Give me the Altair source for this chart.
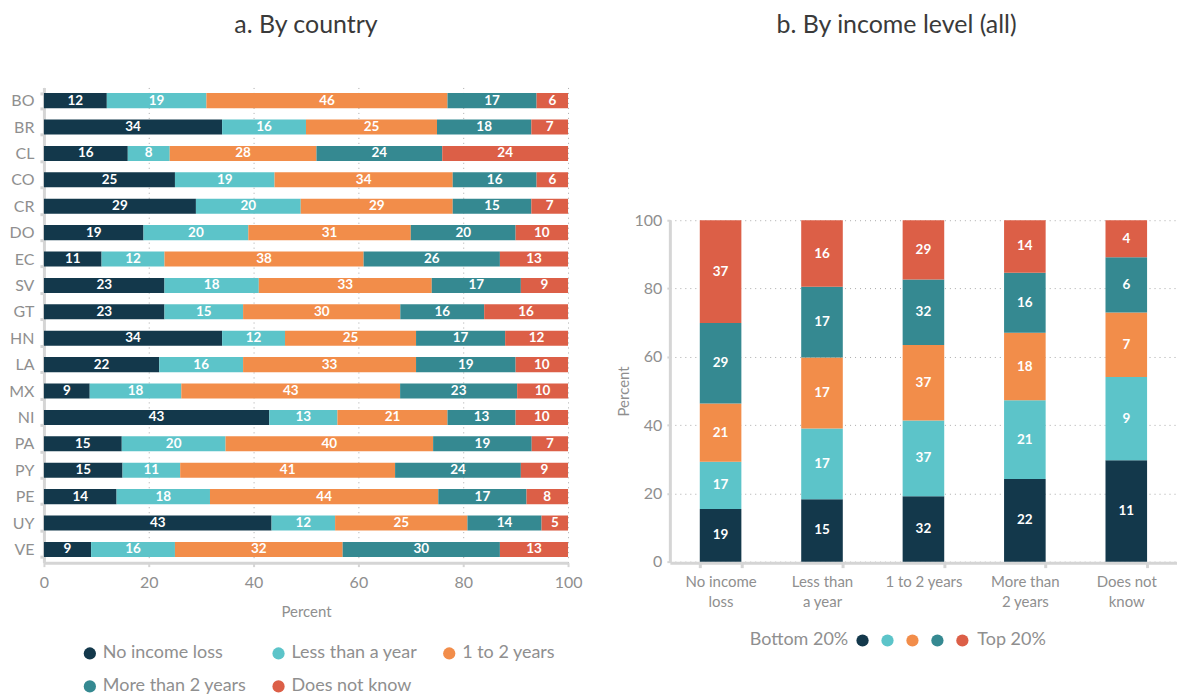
import altair as alt
import pandas as pd

FONT = "Lato"
GRAY = "#8f8f8f"
AXIS_LINE = "#d5d5d5"

# Panel a: share of respondents by expected duration of income loss, per country
countries = ["BO", "BR", "CL", "CO", "CR", "DO", "EC", "SV", "GT", "HN",
             "LA", "MX", "NI", "PA", "PY", "PE", "UY", "VE"]
durations = ["No income loss", "Less than a year", "1 to 2 years",
             "More than 2 years", "Does not know"]
no_loss = [12, 34, 16, 25, 29, 19, 11, 23, 23, 34, 22, 9, 43, 15, 15, 14, 43, 9]
less_year = [19, 16, 8, 19, 20, 20, 12, 18, 15, 12, 16, 18, 13, 20, 11, 18, 12, 16]
one_two = [46, 25, 28, 34, 29, 31, 38, 33, 30, 25, 33, 43, 21, 40, 41, 44, 25, 32]
more_two = [17, 18, 24, 16, 15, 20, 26, 17, 16, 17, 19, 23, 13, 19, 24, 17, 14, 30]
dont_know = [6, 7, 24, 6, 7, 10, 13, 9, 16, 12, 10, 10, 10, 7, 9, 8, 5, 13]

# Panel b: income quintile composition of each duration group
income_groups = ["No income loss", "Less than a year", "1 to 2 years",
                 "More than 2 years", "Does not know"]
quintiles = ["Bottom 20%", "Q2", "Q3", "Q4", "Top 20%"]
q1 = [19, 15, 32, 22, 11]
q2 = [17, 17, 37, 21, 9]
q3 = [21, 17, 37, 18, 7]
q4 = [29, 17, 32, 16, 6]
q5 = [37, 16, 29, 14, 4]

palette = ["#13384b", "#5cc4c9", "#f28d4a", "#358991", "#dc5f47"]

rows = []
for series_idx, (name, vals) in enumerate(zip(durations, [no_loss, less_year, one_two, more_two, dont_know])):
    for c, v in zip(countries, vals):
        rows.append({"country": c, "duration": name, "order": series_idx, "value": v})
df_country = pd.DataFrame(rows)

rows = []
for series_idx, (name, vals) in enumerate(zip(quintiles, [q1, q2, q3, q4, q5])):
    for g, v in zip(income_groups, vals):
        rows.append({"group": g, "quintile": name, "order": series_idx, "value": v})
df_income = pd.DataFrame(rows)

pct_values = [0, 0.2, 0.4, 0.6, 0.8, 1.0]
pct_label = "round(datum.value * 100)"
PLOT_H = 476

# ---- panel a ----
left_base = alt.Chart(df_country).transform_stack(
    stack="value", groupby=["country"], as_=["x0", "x1"],
    sort=[alt.SortField("order", "ascending")], offset="normalize",
).transform_calculate(mid="(datum.x0 + datum.x1) / 2")

y_left = alt.Y(
    "country:N", sort=countries, title=None,
    scale=alt.Scale(paddingInner=0.43, paddingOuter=0.215),
    axis=alt.Axis(labelFontSize=16, labelColor=GRAY, labelPadding=6,
                  domainWidth=3, domainColor=AXIS_LINE, tickBand="extent",
                  tickSize=4, tickWidth=3, tickColor=AXIS_LINE),
)
x_scale_left = alt.Scale(domain=[0, 1], nice=False)

left_bars = left_base.mark_bar().encode(
    y=y_left,
    x=alt.X("x0:Q", scale=x_scale_left, title="Percent",
            axis=alt.Axis(values=pct_values, labelExpr=pct_label, labelFontSize=16,
                          labelColor=GRAY, labelPadding=8, labelFlush=False,
                          titleFontSize=15, titleColor=GRAY, titleFontWeight="normal",
                          titlePadding=14, domainWidth=3, domainColor=AXIS_LINE,
                          tickSize=4, tickWidth=2, tickColor=AXIS_LINE, grid=True,
                          gridDash=[1, 4], gridColor="#aaaaaa")),
    x2="x1:Q",
    color=alt.Color(
        "duration:N", scale=alt.Scale(domain=durations, range=palette), title=None,
        legend=alt.Legend(orient="none", legendX=37, legendY=558, direction="horizontal",
                          columns=3, columnPadding=23, rowPadding=15,
                          symbolType="circle", symbolSize=150, symbolStrokeWidth=0,
                          labelFontSize=18, labelColor=GRAY, labelOffset=4),
    ),
)
left_text = left_base.mark_text(color="white", fontWeight="bold", fontSize=13.5).encode(
    y=alt.Y("country:N", sort=countries),
    x=alt.X("mid:Q", scale=x_scale_left),
    text=alt.Text("value:Q"),
)
left = alt.layer(left_bars, left_text).properties(
    width=525, height=PLOT_H,
    title=alt.TitleParams("a. By country", fontSize=25, fontWeight="normal",
                          color="#3a3a3a", anchor="middle", frame="group", offset=42),
)

# ---- panel b ----
right_base = alt.Chart(df_income).transform_stack(
    stack="value", groupby=["group"], as_=["y0", "y1"],
    sort=[alt.SortField("order", "ascending")], offset="normalize",
).transform_calculate(mid="(datum.y0 + datum.y1) / 2")

wrapped = "{'No income loss': ['No income', 'loss'], 'Less than a year': ['Less than', 'a year'], " \
          "'1 to 2 years': '1 to 2 years', 'More than 2 years': ['More than', '2 years'], " \
          "'Does not know': ['Does not', 'know']}[datum.label]"

x_right = alt.X(
    "group:N", sort=income_groups, title=None,
    scale=alt.Scale(paddingInner=0.59, paddingOuter=0.295),
    axis=alt.Axis(labelAngle=0, labelExpr=wrapped, labelFontSize=15, labelColor=GRAY,
                  labelPadding=7, labelLineHeight=20, domainWidth=3,
                  domainColor=AXIS_LINE, tickBand="extent", tickSize=5, tickWidth=3,
                  tickColor=AXIS_LINE),
)
# the value axis only uses the lower part of the panel
y_scale_right = alt.Scale(domain=[0, 1], nice=False, range=[PLOT_H - 1, PLOT_H - 343])

right_bars = right_base.mark_bar().encode(
    x=x_right,
    y=alt.Y("y0:Q", scale=y_scale_right, title="Percent",
            axis=alt.Axis(values=pct_values, labelExpr=pct_label, labelFontSize=16,
                          labelColor=GRAY, labelPadding=5, labelFlush=False,
                          titleFontSize=15, titleColor=GRAY, titleFontWeight="normal",
                          titlePadding=3, domainWidth=3, domainColor=AXIS_LINE,
                          tickSize=3, tickWidth=2, tickColor=AXIS_LINE, grid=True,
                          gridDash=[1, 4], gridColor="#aaaaaa")),
    y2="y1:Q",
    color=alt.Color(
        "quintile:N", scale=alt.Scale(domain=quintiles, range=palette), title="Bottom 20%",
        legend=alt.Legend(orient="none", legendX=80, legendY=545, direction="horizontal",
                          titleOrient="left", titleFontSize=18, titleColor=GRAY,
                          titleFontWeight="normal", titlePadding=5, titleBaseline="middle",
                          symbolType="circle", symbolSize=150, symbolStrokeWidth=0,
                          labelExpr="datum.label == 'Top 20%' ? datum.label : ''",
                          labelFontSize=18, labelColor=GRAY, labelOffset=6,
                          columnPadding=1),
    ),
)
right_text = right_base.mark_text(color="white", fontWeight="bold", fontSize=13.5).encode(
    x=alt.X("group:N", sort=income_groups),
    y=alt.Y("mid:Q", scale=y_scale_right),
    text=alt.Text("value:Q"),
)
right = alt.layer(right_bars, right_text).properties(
    width=508, height=PLOT_H,
    title=alt.TitleParams("b. By income level (all)", fontSize=25, fontWeight="normal",
                          color="#3a3a3a", anchor="middle", frame="bounds", offset=50),
)

chart = alt.hconcat(left, right, spacing=34).resolve_scale(color="independent").properties(
    padding={"left": 8, "top": 12, "right": 0, "bottom": 0},
).configure(font=FONT).configure_view(stroke=None)

chart.save("out.html", embed_options={"renderer": "svg", "actions": False})
